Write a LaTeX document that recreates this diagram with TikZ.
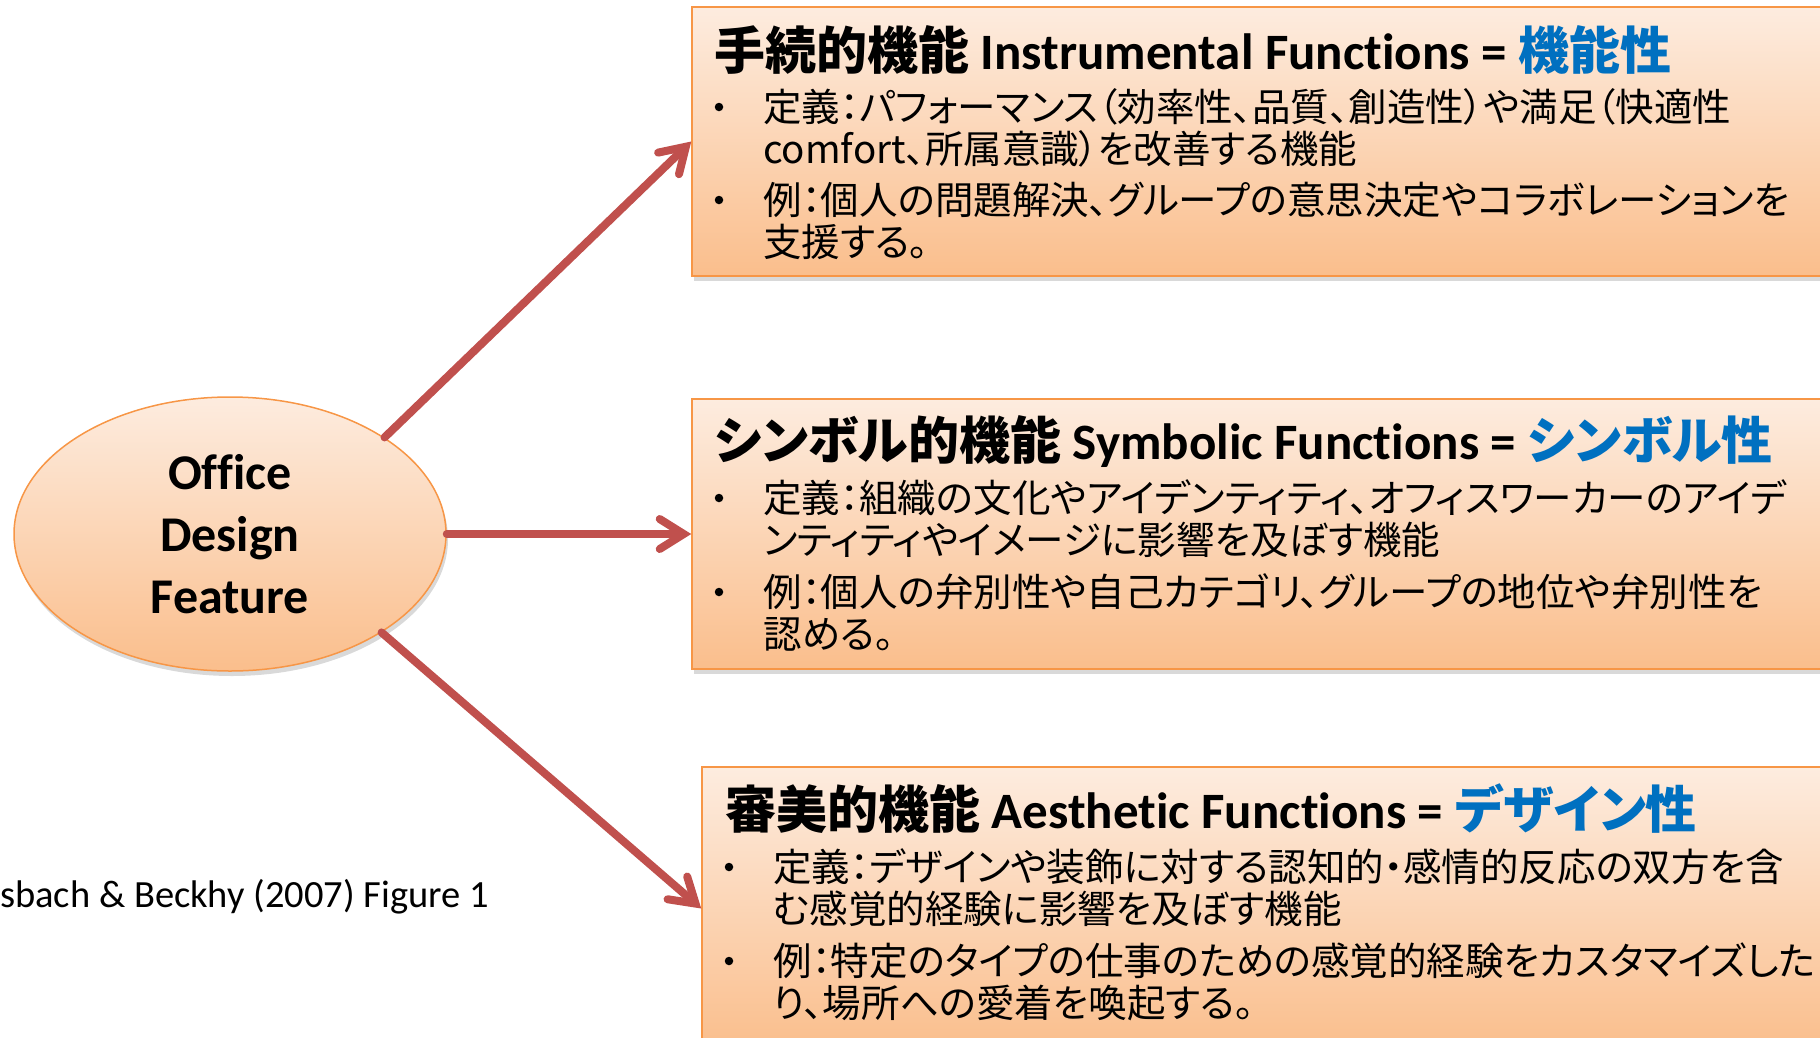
\documentclass[tikz,border=0pt]{standalone}
\usepackage{fontspec}
\setmainfont{Carlito}[Ligatures=NoCommon]
\newfontfamily\cjk{Noto Sans CJK JP}[RawFeature=+palt]
\usetikzlibrary{arrows.meta,shadows,shapes.geometric}
\definecolor{boxtop}{RGB}{253,236,223}
\definecolor{boxbot}{RGB}{250,190,140}
\definecolor{boxedge}{RGB}{247,150,70}
\definecolor{arrowred}{RGB}{192,80,77}
\definecolor{titleblue}{RGB}{0,112,192}
\tikzset{
  fbox/.style={rectangle, draw=boxedge, line width=1.5pt, top color=boxtop, bottom color=boxbot,
    drop shadow={shadow xshift=2pt, shadow yshift=-5pt, opacity=0.3}, inner sep=0pt},
  fell/.style={ellipse, draw=boxedge, line width=1.5pt, top color=boxtop, bottom color=boxbot,
    drop shadow={shadow xshift=2pt, shadow yshift=-5pt, opacity=0.3}, inner sep=0pt,
    minimum width=432pt, minimum height=274pt, align=center,
    font=\bfseries\fontsize{50}{62}\selectfont},
  ttl/.style={anchor=base west, inner sep=0pt, font=\fontsize{51}{60}\selectfont},
  bdy/.style={anchor=base west, inner sep=0pt, font=\cjk\fontsize{38.5}{46}\selectfont},
  bul/.style={circle, fill=black, inner sep=0pt, minimum size=8.5pt},
  conn/.style={draw=arrowred, line width=8pt, line cap=round,
    -{Straight Barb[length=24pt, width=30pt, line cap=round]}},
  captext/.style={anchor=west, inner sep=0pt, font=\fontsize{38.5}{44}\selectfont}
}
\begin{document}
\begin{tikzpicture}[x=1pt,y=-1pt]
\useasboundingbox (0,0) rectangle (1820,1037);
\clip (0,0) rectangle (1820,1037);

% central ellipse
\node[fell] (ell) at (230,534) {Office\\Design\\Feature};

% boxes
\node[fbox, minimum width=1160pt, minimum height=269pt] (b1) at (1272,141.5) {};
\node[fbox, minimum width=1160pt, minimum height=270pt] (b2) at (1272,534) {};
\node[fbox, minimum width=1160pt, minimum height=283pt] (b3) at (1282,908.5) {};

% box 1 text
\node[ttl] (t1) at (714,69) {{\cjk\bfseries 手続的機能} \textbf{Instrumental Functions =} {\cjk\bfseries\color{titleblue}機能性}};
\node[bul] (p1a) at (719,107) {};
\node[bdy] (l1a) at (763,121) {定義：パフォーマンス（効率性、品質、創造性）や満足（快適性};
\node[bdy] (l1b) at (763,163) {comfort、所属意識）を改善する機能};
\node[bul] (p1b) at (719,200) {};
\node[bdy] (l1c) at (763,214) {例：個人の問題解決、グループの意思決定やコラボレーションを};
\node[bdy] (l1d) at (763,256) {支援する。};

% box 2 text
\node[ttl] (t2) at (714,459) {{\cjk\bfseries シンボル的機能} \textbf{Symbolic Functions =} {\cjk\bfseries\color{titleblue}シンボル性}};
\node[bul] (p2a) at (719,498) {};
\node[bdy] (l2a) at (763,512) {定義：組織の文化やアイデンティティ、オフィスワーカーのアイデ};
\node[bdy] (l2b) at (763,554) {ンティティやイメージに影響を及ぼす機能};
\node[bul] (p2b) at (719,592) {};
\node[bdy] (l2c) at (763,606) {例：個人の弁別性や自己カテゴリ、グループの地位や弁別性を};
\node[bdy] (l2d) at (763,648) {認める。};

% box 3 text
\node[ttl] (t3) at (725,828) {{\cjk\bfseries 審美的機能} \textbf{Aesthetic Functions =} {\cjk\bfseries\color{titleblue}デザイン性}};
\node[bul] (p3a) at (729,867) {};
\node[bdy] (l3a) at (773,881) {定義：デザインや装飾に対する認知的・感情的反応の双方を含};
\node[bdy] (l3b) at (773,923) {む感覚的経験に影響を及ぼす機能};
\node[bul] (p3b) at (729,961) {};
\node[bdy] (l3c) at (773,975) {例：特定のタイプの仕事のための感覚的経験をカスタマイズした};
\node[bdy] (l3d) at (773,1017) {り、場所への愛着を喚起する。};

% caption
\node[captext] (capt) at (0,897) {sbach \& Beckhy (2007) Figure 1};

% connectors
\draw[conn] (ell.32.6) -- (b1.west);
\draw[conn] (ell.east) -- (b2.west);
\draw[conn] (ell.-33) -- (b3.west);
\end{tikzpicture}
\end{document}
